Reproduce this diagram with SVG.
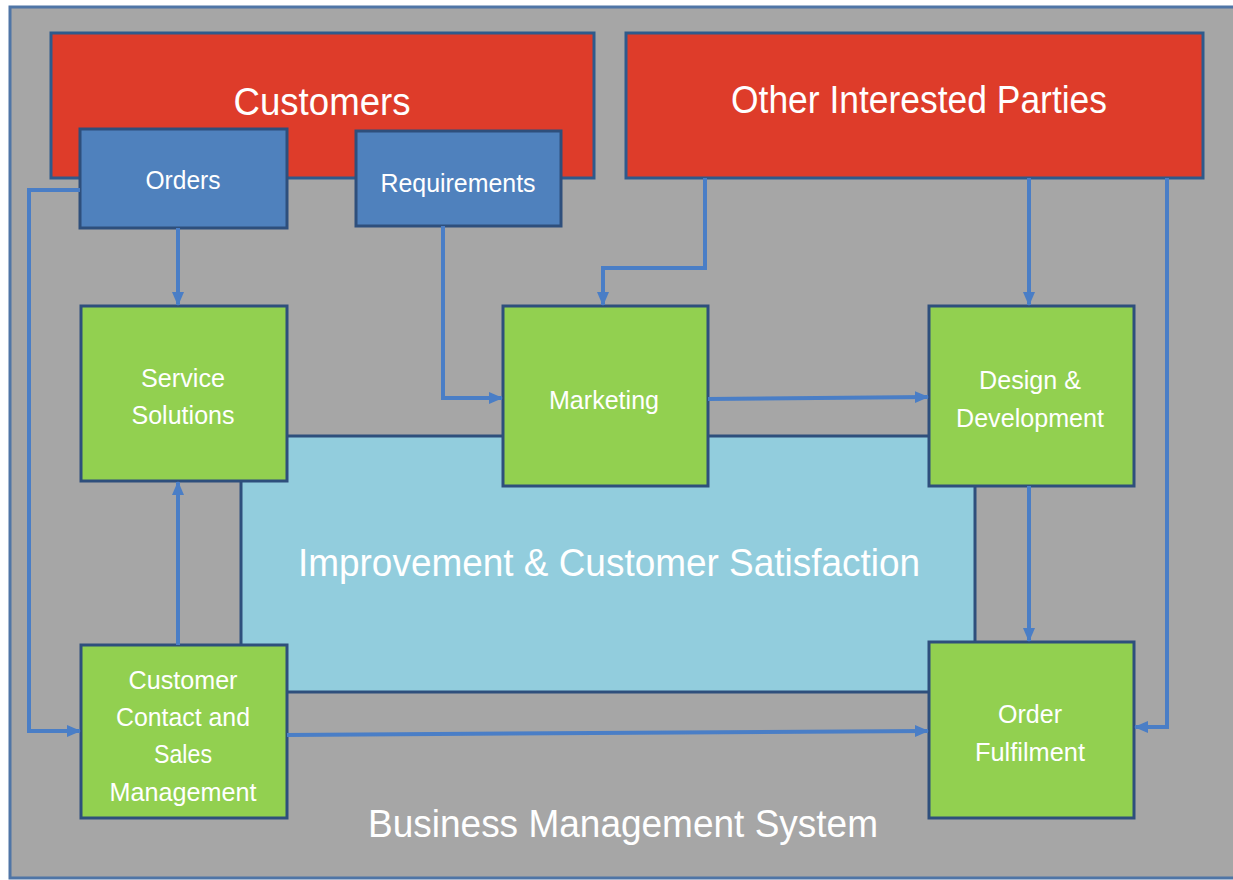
<svg xmlns="http://www.w3.org/2000/svg" width="1233" height="880" viewBox="0 0 1233 880">
<defs>
<style>
.red{fill:#de3c2a;stroke:#2e5a8c;stroke-width:3}
.blue{fill:#4f81bd;stroke:#2e4f7c;stroke-width:3}
.green{fill:#92d050;stroke:#2e4f7c;stroke-width:3}
.lb{fill:#92cddd;stroke:#2e4f7c;stroke-width:3}
text{font-family:"Liberation Sans",Arial,sans-serif;fill:#ffffff;text-anchor:middle}
.big{font-size:38px}
.sm{font-size:26px}
.con{fill:none;stroke:#4a7ec6;stroke-width:4}
</style>
<marker id="ah" markerUnits="userSpaceOnUse" markerWidth="14" markerHeight="14" viewBox="0 0 14 14" refX="13" refY="7" orient="auto">
<path d="M0,1 L14,7 L0,13 Z" fill="#4a7ec6"/>
</marker>
</defs>
<rect x="0" y="0" width="1233" height="880" fill="#ffffff"/>
<rect id="frame" x="10" y="7" width="1230" height="871" fill="#a6a6a6" stroke="#4f75a6" stroke-width="3"/>
<g id="improvement">
<rect class="lb" x="241" y="436" width="734" height="256"/>
<text class="big" x="609" y="576" textLength="622" lengthAdjust="spacingAndGlyphs">Improvement &amp; Customer Satisfaction</text>
</g>
<g id="customers">
<rect class="red" x="51" y="33" width="543" height="145"/>
<text class="big" x="322" y="115" textLength="177" lengthAdjust="spacingAndGlyphs">Customers</text>
</g>
<g id="other">
<rect class="red" x="626" y="33" width="577" height="145"/>
<text class="big" x="919" y="113" textLength="376" lengthAdjust="spacingAndGlyphs">Other Interested Parties</text>
</g>
<g id="orders">
<rect class="blue" x="80" y="129" width="207" height="99"/>
<text class="sm" x="183" y="189" textLength="75" lengthAdjust="spacingAndGlyphs">Orders</text>
</g>
<g id="requirements">
<rect class="blue" x="356" y="131" width="205" height="95"/>
<text class="sm" x="458" y="192" textLength="155" lengthAdjust="spacingAndGlyphs">Requirements</text>
</g>
<g id="service">
<rect class="green" x="81" y="306" width="206" height="175"/>
<text class="sm" x="183" y="387" textLength="84" lengthAdjust="spacingAndGlyphs">Service</text>
<text class="sm" x="183" y="424" textLength="103" lengthAdjust="spacingAndGlyphs">Solutions</text>
</g>
<g id="marketing">
<rect class="green" x="503" y="306" width="205" height="180"/>
<text class="sm" x="604" y="409" textLength="110" lengthAdjust="spacingAndGlyphs">Marketing</text>
</g>
<g id="design">
<rect class="green" x="929" y="306" width="205" height="180"/>
<text class="sm" x="1030" y="389" textLength="102" lengthAdjust="spacingAndGlyphs">Design &amp;</text>
<text class="sm" x="1030" y="427" textLength="148" lengthAdjust="spacingAndGlyphs">Development</text>
</g>
<g id="contact">
<rect class="green" x="81" y="645" width="206" height="173"/>
<text class="sm" x="183" y="689" textLength="109" lengthAdjust="spacingAndGlyphs">Customer</text>
<text class="sm" x="183" y="726" textLength="134" lengthAdjust="spacingAndGlyphs">Contact and</text>
<text class="sm" x="183" y="763" textLength="58" lengthAdjust="spacingAndGlyphs">Sales</text>
<text class="sm" x="183" y="801" textLength="147" lengthAdjust="spacingAndGlyphs">Management</text>
</g>
<g id="fulfilment">
<rect class="green" x="929" y="642" width="205" height="176"/>
<text class="sm" x="1030" y="723" textLength="64" lengthAdjust="spacingAndGlyphs">Order</text>
<text class="sm" x="1030" y="761" textLength="110" lengthAdjust="spacingAndGlyphs">Fulfilment</text>
</g>
<text class="big" x="623" y="837" textLength="510" lengthAdjust="spacingAndGlyphs">Business Management System</text>
<g id="connectors">
<path class="con" d="M178,228 V305" marker-end="url(#ah)"/>
<path class="con" d="M80,190 H29 V731 H80" marker-end="url(#ah)"/>
<path class="con" d="M443,226 V398 H502" marker-end="url(#ah)"/>
<path class="con" d="M705,178 V268 H603 V305" marker-end="url(#ah)"/>
<path class="con" d="M1029,178 V305" marker-end="url(#ah)"/>
<path class="con" d="M1167,178 V727 H1135" marker-end="url(#ah)"/>
<path class="con" d="M708,399 L928,397" marker-end="url(#ah)"/>
<path class="con" d="M1029,486 V641" marker-end="url(#ah)"/>
<path class="con" d="M178,645 V482" marker-end="url(#ah)"/>
<path class="con" d="M287,735 L928,731" marker-end="url(#ah)"/>
</g>
</svg>
